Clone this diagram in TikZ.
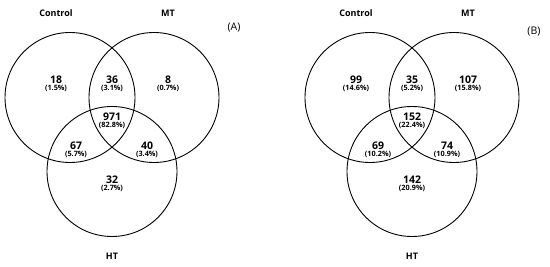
\documentclass[tikz,border=0pt]{standalone}
\usepackage{fontspec}
\setmainfont{Open Sans}
\begin{document}
\begin{tikzpicture}[x=1pt,y=-1pt,
  setc/.style={draw=black,line width=0.9pt,circle,minimum size=130pt,inner sep=0pt},
  setlab/.style={font=\fontsize{9}{10}\selectfont\bfseries,inner sep=0pt},
  panel/.style={font=\fontsize{10.5}{11}\selectfont,inner sep=0pt},
  cnt/.style={inner sep=0pt,font=\fontsize{10.5}{11}\selectfont\bfseries},
  pct/.style={inner sep=0pt,font=\fontsize{7.3}{8}\selectfont\bfseries},
]
\useasboundingbox (0,0) rectangle (550,267);
\newcommand{\cell}[5]{\node[cnt] (#1) at (#2,#3) {#4};
  \node[pct] (#1p) at (#2,#3+8.5) {#5};}
% Panel A
\node[setc] (ca) at (70,97.5) {};
\node[setc] (ma) at (154,97.5) {};
\node[setc] (ha) at (112,171.5) {};
\node[setlab] (lca) at (56,13) {Control};
\node[setlab] (lma) at (168,13) {MT};
\node[setlab] (lha) at (112,256) {HT};
\node[panel] (pa) at (234,28) {(A)};
\cell{a1}{56}{80}{18}{(1.5\%)}
\cell{a2}{112}{80}{36}{(3.1\%)}
\cell{a3}{168}{80}{8}{(0.7\%)}
\cell{a4}{112}{117}{971}{(82.8\%)}
\cell{a5}{76}{146}{67}{(5.7\%)}
\cell{a6}{147}{146}{40}{(3.4\%)}
\cell{a7}{112}{180}{32}{(2.7\%)}
% Panel B
\node[setc] (cb) at (370,97.5) {};
\node[setc] (mb) at (454,97.5) {};
\node[setc] (hb) at (412,171.5) {};
\node[setlab] (lcb) at (356,13) {Control};
\node[setlab] (lmb) at (468,13) {MT};
\node[setlab] (lhb) at (412,256) {HT};
\node[panel] (pb) at (534,32) {(B)};
\cell{b1}{356}{80}{99}{(14.6\%)}
\cell{b2}{412}{80}{35}{(5.2\%)}
\cell{b3}{468}{80}{107}{(15.8\%)}
\cell{b4}{412}{117}{152}{(22.4\%)}
\cell{b5}{378}{146}{69}{(10.2\%)}
\cell{b6}{447}{146}{74}{(10.9\%)}
\cell{b7}{412}{180}{142}{(20.9\%)}
\end{tikzpicture}
\end{document}
